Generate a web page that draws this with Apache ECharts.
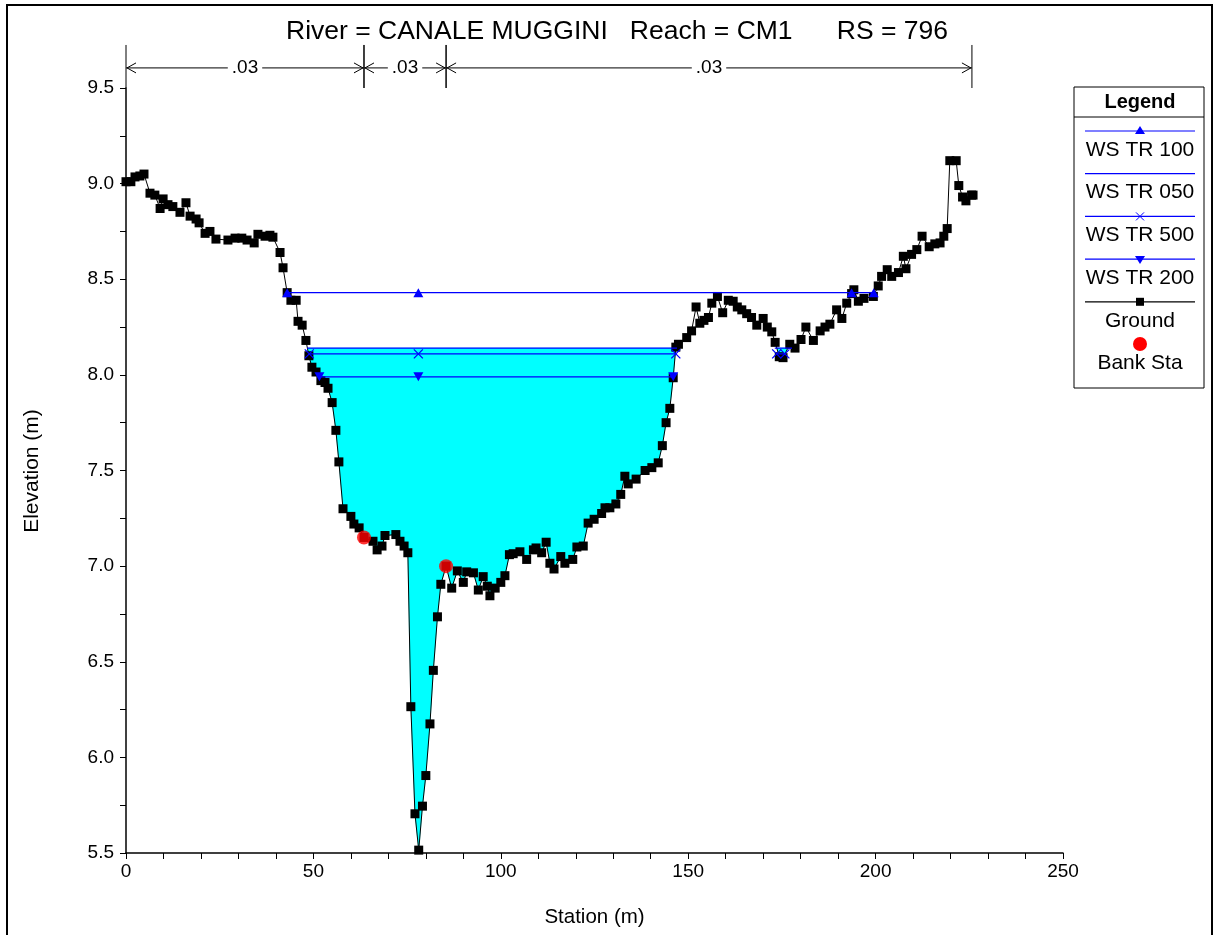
<!DOCTYPE html>
<html>
<head>
<meta charset="utf-8">
<script src="https://cdn.jsdelivr.net/npm/echarts@6/dist/echarts.min.js"></script>
<style>
  html, body { margin: 0; padding: 0; background: #fff; }
  #chart { width: 1215px; height: 935px; }
</style>
</head>
<body>
<div id="chart"></div>
<script>
// Ground profile (station m / elevation m)
const groundStation = [
  0.0, 1.3, 2.4, 3.7, 4.8, 6.4, 7.7, 9.1, 9.9, 11.2, 12.5, 14.4, 16.0, 17.1, 18.7, 19.5,
  21.1, 22.4, 24.0, 27.2, 29.1, 30.9, 32.3, 34.2, 35.2, 37.1, 38.4, 39.2, 41.1, 41.9,
  43.0, 44.0, 45.4, 45.9, 47.0, 48.0, 48.8, 49.6, 50.7, 52.0, 53.1, 53.9, 55.0, 56.0,
  56.8, 57.9, 60.0, 60.8, 62.2, 63.5, 65.9, 67.0, 68.3, 69.1, 72.0, 73.1, 74.2, 75.2,
  76.0, 77.1, 78.1, 79.1, 80.0, 81.1, 82.0, 83.1, 84.0, 85.4, 86.9, 88.4, 90.0, 90.9,
  92.7, 94.0, 95.3, 96.4, 97.1, 98.5, 100.0, 101.1, 102.3, 103.3, 105.1, 106.9, 108.7,
  109.4, 110.9, 112.1, 113.1, 114.2, 116.0, 117.1, 119.2, 120.3, 122.0, 123.3, 124.9,
  126.9, 127.8, 129.1, 130.7, 132.0, 133.1, 134.0, 136.1, 138.5, 140.3, 142.0, 143.1,
  144.1, 145.1, 146.0, 146.7, 147.4, 149.6, 150.9, 152.1, 153.1, 154.2, 155.4, 156.3,
  157.8, 159.2, 160.7, 162.0, 163.1, 164.3, 165.6, 166.9, 168.3, 170.0, 171.1, 172.3,
  173.2, 174.3, 175.3, 177.1, 178.5, 180.1, 181.4, 183.4, 185.2, 186.5, 187.8, 189.6,
  191.0, 192.3, 193.6, 194.2, 195.4, 196.9, 199.4, 200.7, 201.6, 203.1, 204.3, 206.1,
  207.4, 208.1, 209.6, 211.0, 212.4, 214.3, 215.8, 217.2, 218.2, 219.1, 219.8, 221.5,
  222.2, 223.2, 224.1, 225.6, 226.0
];
const groundElev = [
  9.01, 9.01, 9.035, 9.04, 9.05, 8.95, 8.94, 8.87, 8.92, 8.89, 8.88, 8.85, 8.90, 8.83, 8.815, 8.795,
  8.74, 8.75, 8.71, 8.705, 8.715, 8.715, 8.705, 8.69, 8.735, 8.725, 8.73, 8.72, 8.64, 8.56,
  8.43, 8.39, 8.39, 8.28, 8.26, 8.18, 8.10, 8.04, 8.015, 7.97, 7.96, 7.93, 7.855, 7.71,
  7.545, 7.30, 7.26, 7.22, 7.20, 7.15, 7.13, 7.085, 7.105, 7.16, 7.165, 7.13, 7.105, 7.07,
  6.265, 5.705, 5.515, 5.745, 5.905, 6.175, 6.455, 6.735, 6.905, 7.00, 6.885, 6.975, 6.915, 6.97,
  6.965, 6.875, 6.945, 6.895, 6.845, 6.885, 6.915, 6.95, 7.06, 7.065, 7.075, 7.035, 7.085,
  7.095, 7.07, 7.125, 7.015, 6.985, 7.05, 7.015, 7.035, 7.10, 7.105, 7.225, 7.245,
  7.275, 7.305, 7.305, 7.325, 7.375, 7.47, 7.43, 7.455, 7.50, 7.515, 7.54, 7.63,
  7.75, 7.825, 7.985, 8.145, 8.16, 8.195, 8.23, 8.355, 8.27, 8.285, 8.30, 8.375,
  8.41, 8.325, 8.39, 8.385, 8.355, 8.34, 8.32, 8.30, 8.26, 8.295, 8.25, 8.225,
  8.17, 8.095, 8.09, 8.16, 8.14, 8.185, 8.25, 8.18, 8.23, 8.25, 8.265, 8.34,
  8.295, 8.375, 8.425, 8.445, 8.385, 8.40, 8.41, 8.465, 8.515, 8.55, 8.515, 8.535,
  8.62, 8.555, 8.63, 8.655, 8.725, 8.67, 8.685, 8.69, 8.725, 8.765, 9.12, 9.12,
  8.99, 8.93, 8.91, 8.94, 8.94
];

// Water surfaces (end points and marker points), '-' breaks the line
const wsTR100 = [[43.0, 8.43], [78.0, 8.43], [193.6, 8.43], [199.5, 8.43]];
const wsTR050 = [[48.3, 8.14], [147.0, 8.14], ['-', '-'], [173.1, 8.14], [177.7, 8.14]];
const wsTR500 = [[48.9, 8.11], [78.0, 8.11], [146.7, 8.11], ['-', '-'], [173.6, 8.11], [175.8, 8.11]];
const wsTR200 = [[51.6, 7.99], [78.0, 7.99], [146.0, 7.99]];
const fillLevel = 8.14;

// Bank stations
const bankStation = [63.5, 85.4];
const bankElev = [7.15, 7.00];

// Manning's n breaks and values
const nBreaks = [0, 63.5, 85.4, 225.7];
const nValues = ['.03', '.03', '.03'];

const FONT = 'Liberation Sans, Arial, sans-serif';
const BLUE = '#0000ff';

const groundData = groundStation.map((s, i) => [s, groundElev[i]]);

// wet polygons below the fill level
function wetPolygons(level) {
  const polys = [];
  let cur = null;
  for (let i = 0; i < groundData.length - 1; i++) {
    const [x0, y0] = groundData[i];
    const [x1, y1] = groundData[i + 1];
    const w0 = y0 < level, w1 = y1 < level;
    if (!w0 && w1) {
      const t = (level - y0) / (y1 - y0);
      cur = [[x0 + t * (x1 - x0), level]];
    }
    if (w1 && cur) cur.push([x1, y1]);
    if (w0 && !w1 && cur) {
      const t = (level - y0) / (y1 - y0);
      cur.push([x0 + t * (x1 - x0), level]);
      polys.push(cur);
      cur = null;
    }
  }
  return polys;
}
const wetPolys = wetPolygons(fillLevel);

const nTop = 9.725, nArrow = 9.605, nBottom = 9.5;

function renderNBands(params, api) {
  const i = params.dataIndex;
  const a = api.coord([nBreaks[i], nArrow]);
  const b = api.coord([nBreaks[i + 1], nArrow]);
  const top = api.coord([0, nTop])[1];
  const bot = api.coord([0, nBottom])[1];
  const ls = { stroke: '#000', lineWidth: 1, fill: 'none' };
  const y = a[1];
  const children = [
    { type: 'line', shape: { x1: a[0], y1: top, x2: a[0], y2: bot }, style: ls },
    { type: 'line', shape: { x1: b[0], y1: top, x2: b[0], y2: bot }, style: ls },
    { type: 'line', shape: { x1: a[0], y1: y, x2: b[0], y2: y }, style: ls },
    { type: 'polyline', shape: { points: [[a[0] + 10, y - 5], [a[0] + 1, y], [a[0] + 10, y + 5]] }, style: ls },
    { type: 'polyline', shape: { points: [[b[0] - 10, y - 5], [b[0] - 1, y], [b[0] - 10, y + 5]] }, style: ls },
    {
      type: 'text',
      style: {
        x: (a[0] + b[0]) / 2, y: y, text: nValues[i], align: 'center', verticalAlign: 'middle',
        fill: '#000', font: '19px ' + FONT, backgroundColor: '#fff', padding: [0, 4]
      }
    }
  ];
  return { type: 'group', children };
}

// legend drawn as graphic
const legendRows = [
  { name: 'WS TR 100', mark: 'up' },
  { name: 'WS TR 050', mark: 'none' },
  { name: 'WS TR 500', mark: 'x' },
  { name: 'WS TR 200', mark: 'down' },
  { name: 'Ground', mark: 'square' }
];
function buildLegend() {
  const L = 1074, R = 1204, T = 87, B = 388, cx = 1140;
  const font = '21px ' + FONT;
  const els = [
    { type: 'rect', shape: { x: L, y: T, width: R - L, height: B - T }, style: { fill: '#fff', stroke: '#000', lineWidth: 1 } },
    { type: 'text', x: cx, y: 102, style: { text: 'Legend', font: 'bold 20px ' + FONT, fill: '#000', align: 'center', verticalAlign: 'middle' } },
    { type: 'line', shape: { x1: L, y1: 117, x2: R, y2: 117 }, style: { stroke: '#000', lineWidth: 1 } }
  ];
  legendRows.forEach((r, i) => {
    const y = 131 + i * 42.7;
    const col = r.mark === 'square' ? '#000' : BLUE;
    els.push({ type: 'line', shape: { x1: 1085, y1: y, x2: 1195, y2: y }, style: { stroke: col, lineWidth: 1.2 } });
    if (r.mark === 'up') els.push({ type: 'polygon', shape: { points: [[cx, y - 5], [cx - 5, y + 3], [cx + 5, y + 3]] }, style: { fill: BLUE } });
    if (r.mark === 'down') els.push({ type: 'polygon', shape: { points: [[cx, y + 5], [cx - 5, y - 3], [cx + 5, y - 3]] }, style: { fill: BLUE } });
    if (r.mark === 'x') els.push({ type: 'polyline', shape: { points: [[cx - 4, y - 4], [cx + 4, y + 4]] }, style: { stroke: BLUE, fill: 'none' } },
      { type: 'polyline', shape: { points: [[cx + 4, y - 4], [cx - 4, y + 4]] }, style: { stroke: BLUE, fill: 'none' } });
    if (r.mark === 'square') els.push({ type: 'rect', shape: { x: cx - 4, y: y - 4, width: 8, height: 8 }, style: { fill: '#000' } });
    els.push({ type: 'text', x: cx, y: y + 19, style: { text: r.name, font, fill: '#000', align: 'center', verticalAlign: 'middle' } });
  });
  els.push({ type: 'circle', shape: { cx: cx, cy: 344, r: 7 }, style: { fill: '#ff0000' } });
  els.push({ type: 'text', x: cx, y: 363, style: { text: 'Bank Sta', font, fill: '#000', align: 'center', verticalAlign: 'middle' } });
  return els;
}

const chart = echarts.init(document.getElementById('chart'), null, { renderer: 'canvas' });

const wsSeries = (name, data, symbol, extra) => Object.assign({
  name, type: 'line', data, symbol, symbolSize: 10, showAllSymbol: true,
  lineStyle: { color: BLUE, width: 1.3 }, itemStyle: { color: BLUE },
  connectNulls: false, z: 4, silent: true
}, extra || {});

chart.setOption({
  animation: false,
  backgroundColor: '#fff',
  title: {
    text: 'River = CANALE MUGGINI   Reach = CM1      RS = 796',
    left: 612, top: 13, textAlign: 'center',
    textStyle: { fontFamily: FONT, fontSize: 26.5, fontWeight: 'normal', color: '#000' }
  },
  grid: { left: 126, right: 152, top: 88, bottom: 82, outerBoundsMode: 'none', containLabel: false },
  xAxis: {
    type: 'value', min: 0, max: 250, interval: 50,
    name: 'Station (m)', nameLocation: 'middle', nameGap: 54,
    nameTextStyle: { fontFamily: FONT, fontSize: 20.5, color: '#000' },
    axisLine: { show: true, onZero: false, lineStyle: { color: '#000', width: 1.5 } },
    axisTick: { show: true, length: 6, lineStyle: { color: '#000' } },
    minorTick: { show: true, splitNumber: 5, length: 6, lineStyle: { color: '#000' } },
    splitLine: { show: false }, minorSplitLine: { show: false },
    axisLabel: { fontFamily: FONT, fontSize: 19, color: '#000', margin: 9 }
  },
  yAxis: {
    type: 'value', min: 5.5, max: 9.5, interval: 0.5,
    axisLine: { show: true, onZero: false, lineStyle: { color: '#000', width: 1.5 } },
    axisTick: { show: true, length: 6, lineStyle: { color: '#000' } },
    minorTick: { show: true, splitNumber: 2, length: 6, lineStyle: { color: '#000' } },
    splitLine: { show: false }, minorSplitLine: { show: false },
    axisLabel: { fontFamily: FONT, fontSize: 19, color: '#000', margin: 12, formatter: v => v.toFixed(1) }
  },
  graphic: [
    { type: 'rect', shape: { x: 7, y: 5, width: 1205, height: 940 }, style: { fill: 'none', stroke: '#000', lineWidth: 2 }, z: 100 },
    { type: 'text', x: 32, y: 471, rotation: Math.PI / 2,
      style: { text: 'Elevation (m)', font: '21px ' + FONT, fill: '#000', align: 'center', verticalAlign: 'middle' } },
    ...buildLegend()
  ],
  series: [
    {
      type: 'custom', name: 'fill', z: 1, silent: true,
      data: wetPolys.map((p, i) => [p[0][0], fillLevel, i]),
      renderItem: (params, api) => ({
        type: 'polygon',
        shape: { points: wetPolys[params.dataIndex].map(p => api.coord(p)) },
        style: { fill: '#00ffff', stroke: '#00ffff', lineWidth: 0.5 }
      })
    },
    {
      type: 'custom', name: 'nvalues', z: 6, silent: true, clip: false,
      data: nValues.map((v, i) => [nBreaks[i], nBottom]),
      renderItem: renderNBands
    },
    {
      name: 'Ground', type: 'line', data: groundData, symbol: 'rect', symbolSize: 9, showAllSymbol: true,
      lineStyle: { color: '#000', width: 1 }, itemStyle: { color: '#000' }, z: 3, silent: true
    },
    wsSeries('WS TR 050', wsTR050, 'none'),
    wsSeries('WS TR 100', wsTR100, 'triangle', { symbolSize: [10, 9] }),
    wsSeries('WS TR 500', wsTR500, 'path://M0,0L10,10M10,0L0,10',
      { symbolSize: 9, itemStyle: { color: 'none', borderColor: BLUE, borderWidth: 1.3 } }),
    wsSeries('WS TR 200', wsTR200, 'path://M0,0L10,0L5,9Z', { symbolSize: [10, 9] }),
    {
      name: 'Bank Sta', type: 'scatter', data: bankStation.map((s, i) => [s, bankElev[i]]),
      symbol: 'circle', symbolSize: 14, itemStyle: { color: '#ff0000' }, z: 5, silent: true
    }
  ]
});
</script>
</body>
</html>
